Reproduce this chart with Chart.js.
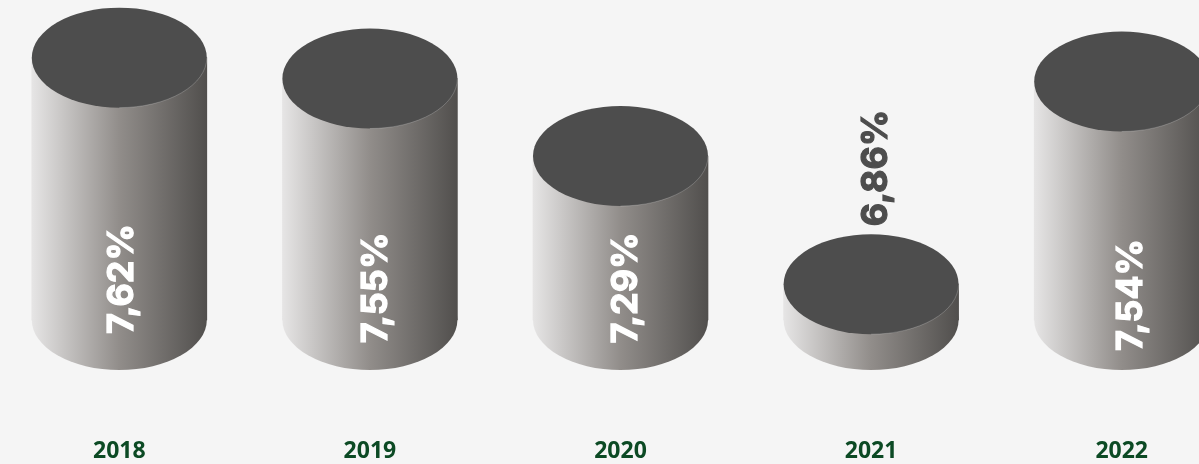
<!DOCTYPE html>
<html>
<head>
<meta charset="utf-8">
<style>
html, body { margin: 0; padding: 0; width: 1199px; height: 464px; background: #f5f5f5; overflow: hidden; }
#wrap { position: absolute; left: -6px; top: 0; width: 1253px; height: 473px; }
</style>
</head>
<body>
<div id="wrap"><canvas id="cylinders" width="1253" height="473"></canvas></div>
<script src="https://cdn.jsdelivr.net/npm/chart.js@4"></script>
<script>
var years = ['2018', '2019', '2020', '2021', '2022'];
var rates = [7.62, 7.55, 7.29, 6.86, 7.54];

var ELLIPSE_RY = 50;
var BAR_WIDTH = 175;

// where each rotated label sits, relative to the bar centre and its base
var labelOffsets = [[3, -41], [6, -32], [6, -32], [5, -152], [9, -25]];

function sideGradient(chart, i) {
    var cx = chart.scales.x.getPixelForValue(i);
    var g = chart.ctx.createLinearGradient(cx - BAR_WIDTH / 2, 0, cx + BAR_WIDTH / 2, 0);
    g.addColorStop(0, '#e6e5e5');
    g.addColorStop(0.5, '#918d8a');
    g.addColorStop(1, '#514f4d');
    return g;
}

// bars come from chart.js, this adds the round ends and the rotated labels
var cylinderPlugin = {
    id: 'cylinder',
    afterDatasetsDraw: function(chart) {
        var ctx = chart.ctx;
        chart.getDatasetMeta(0).data.forEach(function(bar, i) {
            var rx = BAR_WIDTH / 2;
            ctx.save();
            ctx.fillStyle = sideGradient(chart, i);
            ctx.beginPath();
            ctx.ellipse(bar.x, bar.base, rx, ELLIPSE_RY, 0, 0, Math.PI * 2);
            ctx.fill();

            ctx.fillStyle = '#4d4d4d';
            ctx.beginPath();
            ctx.ellipse(bar.x, bar.y, rx, ELLIPSE_RY, 0, 0, Math.PI * 2);
            ctx.fill();

            ctx.strokeStyle = 'rgba(255,255,255,0.3)';
            ctx.lineWidth = 0.7;
            ctx.beginPath();
            ctx.ellipse(bar.x, bar.y, rx, ELLIPSE_RY, 0, 0, Math.PI / 2);
            ctx.stroke();

            var off = labelOffsets[i];
            var color = i === 3 ? '#4d4d4d' : '#ffffff';
            var text = rates[i].toFixed(2).replace('.', ',') + '%';
            ctx.translate(bar.x + off[0], bar.base + off[1]);
            ctx.rotate(-Math.PI / 2);
            ctx.font = 'bold 36px "Inter"';
            ctx.textAlign = 'center';
            ctx.textBaseline = 'middle';
            ctx.fillStyle = color;
            ctx.strokeStyle = color;
            ctx.lineWidth = 1.2;
            ctx.fillText(text, 0, 0);
            ctx.strokeText(text, 0, 0);
            ctx.restore();
        });
    }
};

var myChart = new Chart(document.getElementById('cylinders'), {
    type: 'bar',
    data: {
        labels: years,
        datasets: [{
            data: rates,
            base: 6.74,
            barThickness: BAR_WIDTH,
            borderWidth: 0,
            backgroundColor: function(context) {
                if (!context.chart.chartArea || context.dataIndex === undefined) return '#918d8a';
                return sideGradient(context.chart, context.dataIndex);
            }
        }]
    },
    options: {
        responsive: false,
        animation: false,
        layout: { padding: { top: 4, bottom: 2 } },
        plugins: {
            legend: { display: false },
            title: { display: false },
            tooltip: { enabled: false }
        },
        scales: {
            x: {
                grid: { display: false },
                border: { display: false },
                ticks: {
                    padding: 6,
                    color: '#0c4a24',
                    font: { family: 'Noto Sans', weight: 'bold', size: 23 },
                    maxRotation: 0
                }
            },
            y: {
                display: false,
                min: 6.393,
                max: 7.8
            }
        }
    },
    plugins: [cylinderPlugin]
});
</script>
</body>
</html>
